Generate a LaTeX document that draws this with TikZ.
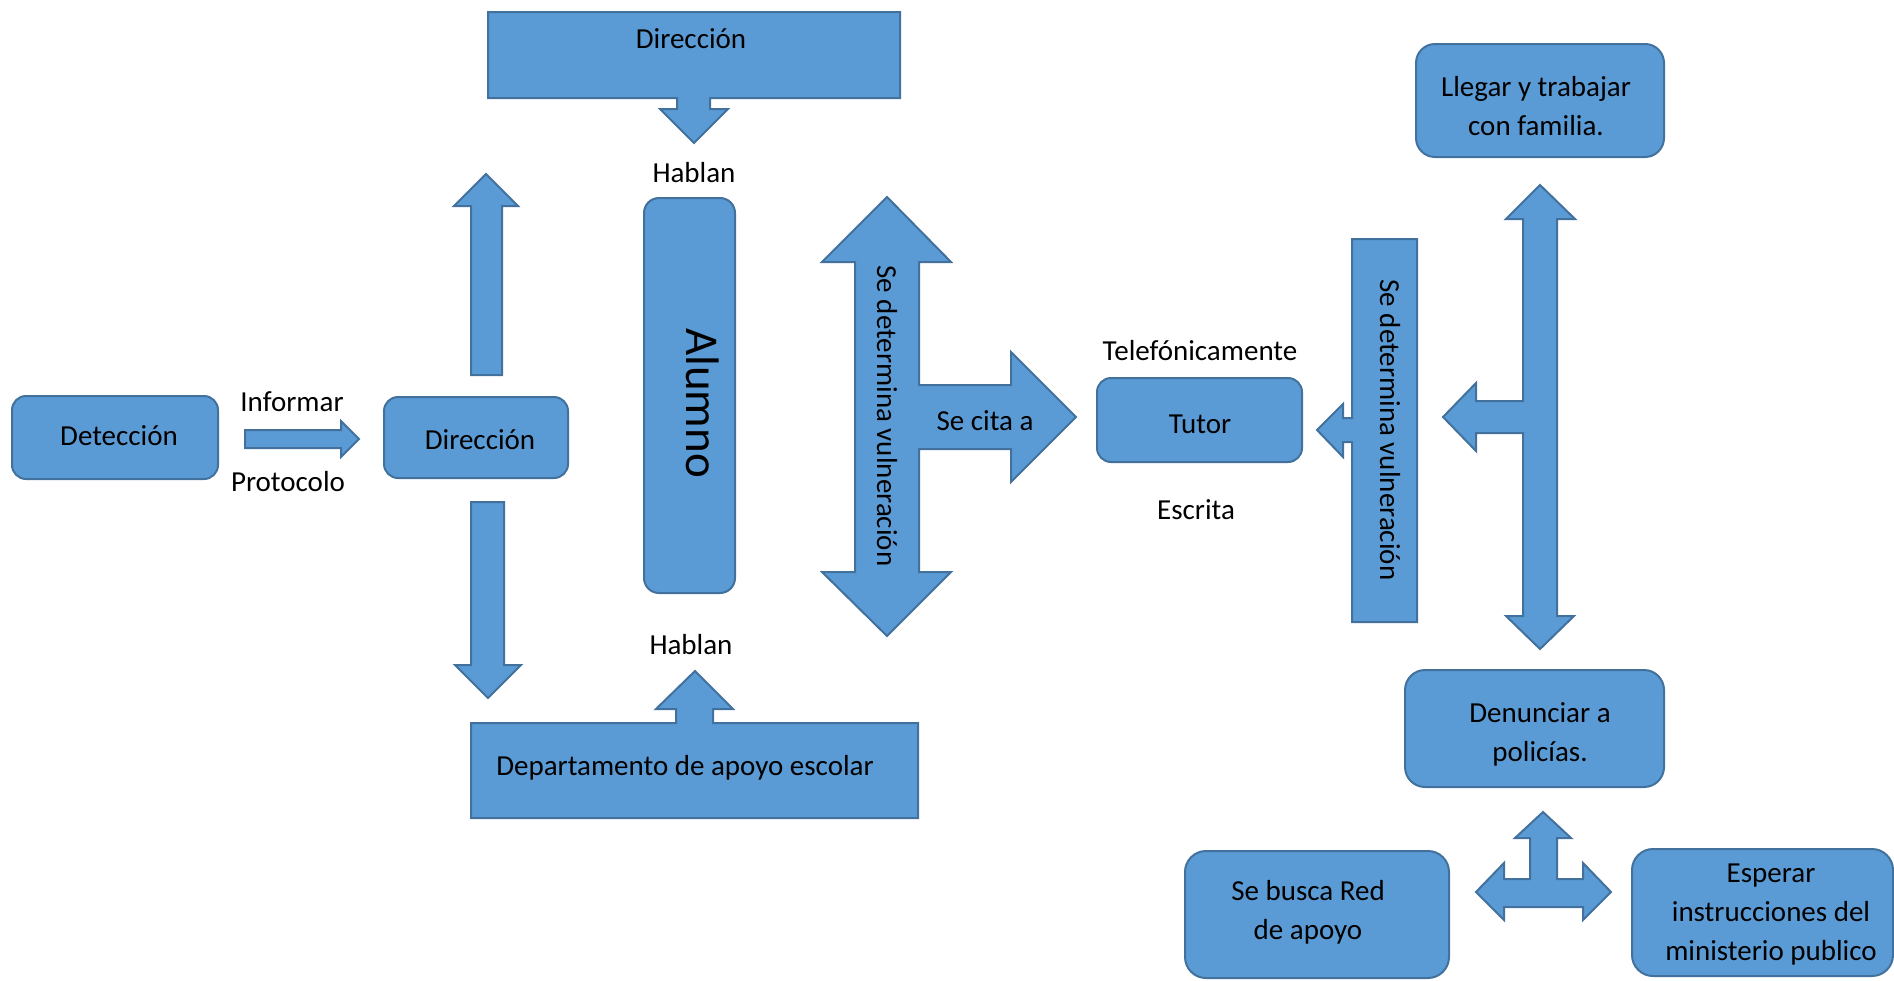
\documentclass[tikz,border=0pt]{standalone}
\usepackage{fontspec}
\setmainfont{Carlito}
\definecolor{fillc}{HTML}{5B9BD5}
\definecolor{linec}{HTML}{41719C}
\tikzset{
  shp/.style={fill=fillc, draw=linec, line width=2pt, line join=miter},
  rbox/.style={shp, inner sep=0pt, outer sep=0pt},
  txt/.style={font=\fontsize{29}{39}\selectfont, inner sep=0pt, align=center, anchor=center, text=black},
  bigtxt/.style={font=\fontsize{47}{56}\selectfont, inner sep=0pt, anchor=center, text=black},
}
\begin{document}
\begin{tikzpicture}[x=1pt,y=-1pt]
\useasboundingbox (0,0) rectangle (1894,980);

% rounded boxes
\node[rbox, rounded corners=14pt, minimum width=206pt, minimum height=83pt] (det) at (115,437.5) {};
\node[rbox, rounded corners=14pt, minimum width=184pt, minimum height=81pt] (dir) at (476,437.5) {};
\node[rbox, rounded corners=15pt, minimum width=91pt, minimum height=395pt] (alumno) at (689.5,395.5) {};
\node[rbox, rounded corners=14pt, minimum width=205pt, minimum height=84pt] (tutor) at (1199.5,420) {};
\node[rbox, rounded corners=19pt, minimum width=248pt, minimum height=113pt] (llegar) at (1540,100.5) {};
\node[rbox, rounded corners=20pt, minimum width=259pt, minimum height=117pt] (denun) at (1534.5,728.5) {};
\node[rbox, rounded corners=21pt, minimum width=264pt, minimum height=127pt] (busca) at (1317,914.5) {};
\node[rbox, rounded corners=21pt, minimum width=261pt, minimum height=127pt] (esperar) at (1762.5,912.5) {};

% rectangle with down arrow (Direccion top)
\draw[shp] (488,12) -- (900,12) -- (900,98) -- (710,98) -- (710,109) -- (728,109) -- (694,143)
  -- (660,109) -- (677,109) -- (677,98) -- (488,98) -- cycle;
% rectangle with up arrow (Departamento)
\draw[shp] (471,723) -- (676,723) -- (676,709) -- (656,709) -- (695,671) -- (733,709) -- (713,709)
  -- (713,723) -- (918,723) -- (918,818) -- (471,818) -- cycle;
% rectangle with left arrow (Se determina vulneracion, right)
\draw[shp] (1352,239) -- (1417,239) -- (1417,622) -- (1352,622) -- (1352,442) -- (1343,442)
  -- (1343,457) -- (1317,430) -- (1343,404) -- (1343,418) -- (1352,418) -- cycle;

% small right arrow
\draw[shp] (245,430) -- (341,430) -- (341,421) -- (359,439) -- (341,457) -- (341,448) -- (245,448) -- cycle;
% up arrow
\draw[shp] (471,375) -- (471,206) -- (454,206) -- (486,174) -- (518,206) -- (502,206) -- (502,375) -- cycle;
% down arrow
\draw[shp] (471,502) -- (504,502) -- (504,665) -- (521,665) -- (488,698) -- (455,665) -- (471,665) -- cycle;
% big up/down/right arrow
\draw[shp] (887,197) -- (951,262) -- (919,262) -- (919,385) -- (1011,385) -- (1011,352) -- (1076,417)
  -- (1011,482) -- (1011,449) -- (919,449) -- (919,572) -- (951,572) -- (887,636) -- (822,572)
  -- (855,572) -- (855,262) -- (822,262) -- cycle;
% right up/down/left arrow
\draw[shp] (1540,185) -- (1575,219) -- (1557,219) -- (1557,616) -- (1574,616) -- (1540,649) -- (1506,616)
  -- (1523,616) -- (1523,433) -- (1476,433) -- (1476,451) -- (1443,417) -- (1476,383) -- (1476,401)
  -- (1523,401) -- (1523,219) -- (1506,219) -- cycle;
% bottom up/left/right arrow
\draw[shp] (1543,812) -- (1571,838) -- (1557,838) -- (1557,879) -- (1583,879) -- (1583,863) -- (1611,892)
  -- (1583,920) -- (1583,907) -- (1504,907) -- (1504,920) -- (1476,892) -- (1504,863) -- (1504,879)
  -- (1530,879) -- (1530,838) -- (1515,838) -- cycle;

% texts
\node[txt] (tdet) at (119,436) {Detección};
\node[txt] (tdir) at (480,440) {Dirección};
\node[txt] (tdirtop) at (691,39) {Dirección};
\node[bigtxt, rotate=-90] (tal) at (703,403) {Alumno};
\node[txt] (tinf) at (292,402) {Informar};
\node[txt] (tprot) at (288,482) {Protocolo};
\node[txt] (thab1) at (694,173) {Hablan};
\node[txt] (thab2) at (691,645) {Hablan};
\node[txt] (tdepto) at (685,768) {Departamento de apoyo escolar};
\node[txt, rotate=-90] (tsdv1) at (887,416) {Se determina vulneración};
\node[txt] (tcita) at (985,421) {Se cita a};
\node[txt] (ttel) at (1200,351) {Telefónicamente};
\node[txt] (ttutor) at (1200,424) {Tutor};
\node[txt] (tesc) at (1196,510) {Escrita};
\node[txt, rotate=-90] (tsdv2) at (1390,430) {Se determina vulneración};
\node[txt] (tlleg) at (1536,106.5) {Llegar y trabajar\\con familia.};
\node[txt] (tden) at (1540,734.5) {Denunciar a\\policías.};
\node[txt] (tbus) at (1308,912.5) {Se busca Red\\de apoyo};
\node[txt] (tesp) at (1771,915) {Esperar\\instrucciones del\\ministerio publico};
\end{tikzpicture}
\end{document}
